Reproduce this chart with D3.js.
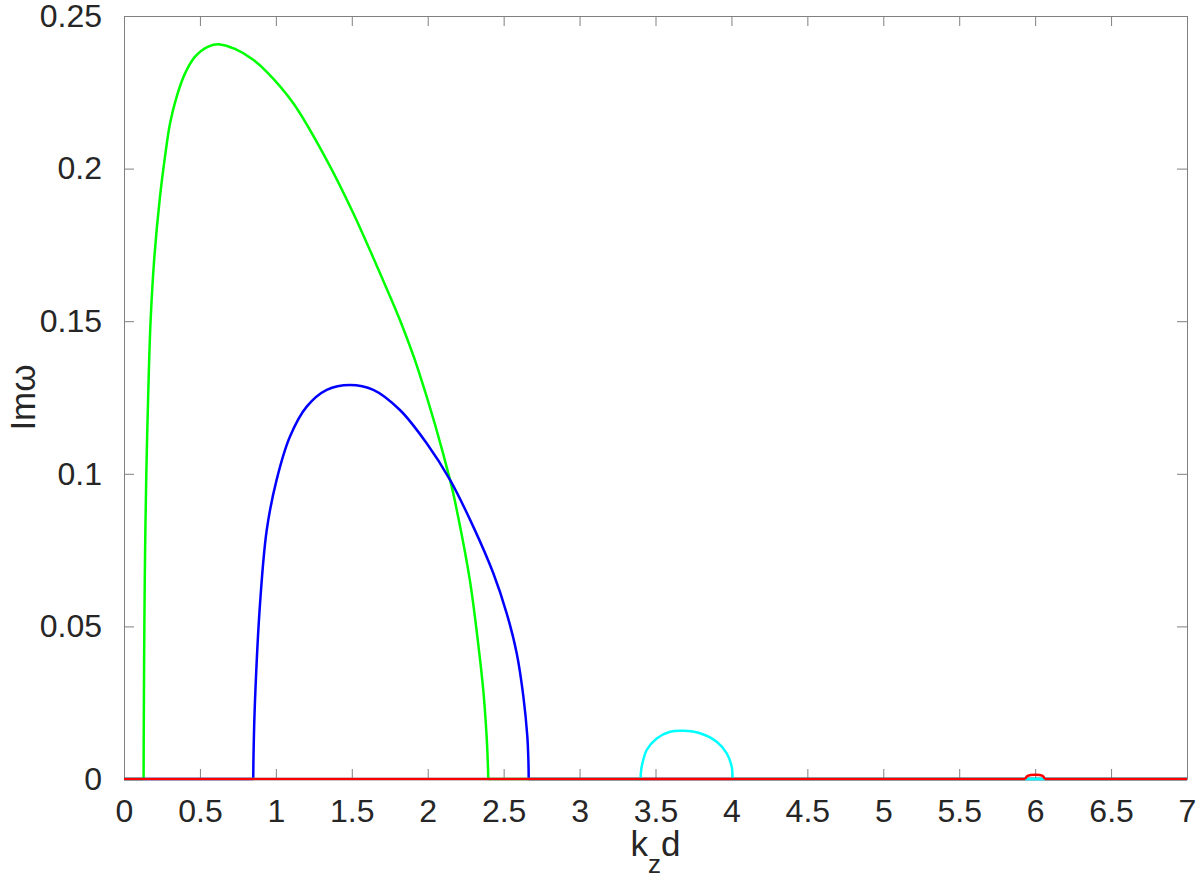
<!DOCTYPE html>
<html>
<head>
<meta charset="utf-8">
<script src="https://cdn.jsdelivr.net/npm/d3@7"></script>
<style>
  body { margin: 0; background: #fff; }
  text { font-family: "Liberation Sans", Arial, sans-serif; fill: #262626; }
</style>
</head>
<body>
<script>
// growth rate curves
var kGreen  = [0, 0.129, 0.1305, 0.134, 0.139, 0.147, 0.16, 0.175, 0.2, 0.237, 0.27, 0.303, 0.347, 0.402, 0.468, 0.555, 0.632, 0.731, 0.841, 0.94, 1.115, 1.335, 1.51, 1.686, 1.817, 1.938, 2.147, 2.202, 2.278, 2.326, 2.366, 2.388, 2.396, 2.399, 7];
var imGreen = [0, 0, 0.02, 0.05, 0.075, 0.1, 0.127, 0.15, 0.171, 0.1908, 0.2039, 0.2148, 0.2236, 0.2312, 0.2367, 0.24, 0.2407, 0.2392, 0.236, 0.2317, 0.2214, 0.2028, 0.1854, 0.1657, 0.1504, 0.134, 0.098, 0.0855, 0.065, 0.047, 0.029, 0.0139, 0.005, 0, 0];

var kBlue  = [0, 0.851, 0.853, 0.862, 0.896, 0.94, 1.005, 1.093, 1.203, 1.335, 1.488, 1.642, 1.817, 1.993, 2.147, 2.3, 2.432, 2.52, 2.586, 2.63, 2.656, 2.663, 2.665, 7];
var imBlue = [0, 0, 0.008, 0.0248, 0.0576, 0.0816, 0.098, 0.1122, 0.122, 0.1275, 0.1291, 0.1275, 0.1209, 0.11, 0.098, 0.0827, 0.0674, 0.0543, 0.0412, 0.027, 0.0139, 0.006, 0, 0];

var kCyan  = [0, 3.402, 3.404, 3.409, 3.442, 3.508, 3.596, 3.683, 3.793, 3.903, 3.969, 4.002, 4.006, 4.008, 7];
var imCyan = [0, 0, 0.002, 0.004, 0.0095, 0.0133, 0.0155, 0.0158, 0.015, 0.0122, 0.0084, 0.004, 0.002, 0, 0];

var kRed  = [0, 5.935, 5.945, 5.97, 6.0, 6.03, 6.055, 6.062, 7];
var imRed = [0, 0, 0.0008, 0.0013, 0.0014, 0.0013, 0.0008, 0, 0];

var xTicks = [0, 0.5, 1, 1.5, 2, 2.5, 3, 3.5, 4, 4.5, 5, 5.5, 6, 6.5, 7];
var yTicks = [0, 0.05, 0.1, 0.15, 0.2, 0.25];

var width = 1200, height = 880,
    margin = {top: 16, right: 13, bottom: 101, left: 124};

var w = width - margin.left - margin.right,
    h = height - margin.top - margin.bottom;

var svg = d3.select("body").append("svg")
    .attr("width", width)
    .attr("height", height)
    .append("g")
    .attr("transform", "translate(" + margin.left + "," + margin.top + ")");

var x = d3.scaleLinear().domain([0, 7]).range([0, w]);
var y = d3.scaleLinear().domain([0, 0.25]).range([h, 0]);

function styleAxis(g) {
    g.select(".domain").attr("stroke", "#808080").attr("stroke-width", 1);
    g.selectAll(".tick line").attr("stroke", "#808080").attr("stroke-width", 1);
    g.selectAll("text").style("font-size", "32px").attr("fill", "#262626")
        .attr("font-family", "Liberation Sans, Arial, sans-serif");
}

// bottom axis with labels
svg.append("g")
    .attr("transform", "translate(0," + h + ")")
    .call(d3.axisBottom(x).tickValues(xTicks).tickFormat(d3.format("")).tickSizeInner(-10).tickSizeOuter(0).tickPadding(20))
    .call(styleAxis);

// top axis, ticks only
svg.append("g")
    .call(d3.axisTop(x).tickValues(xTicks).tickFormat("").tickSizeInner(-10).tickSizeOuter(0))
    .call(styleAxis);

// left axis with labels
svg.append("g")
    .call(d3.axisLeft(y).tickValues(yTicks).tickFormat(d3.format("")).tickSizeInner(-10).tickSizeOuter(0).tickPadding(22))
    .call(styleAxis);

// right axis, ticks only
svg.append("g")
    .attr("transform", "translate(" + w + ",0)")
    .call(d3.axisRight(y).tickValues(yTicks).tickFormat("").tickSizeInner(-10).tickSizeOuter(0))
    .call(styleAxis);

// smooth curve for the unstable band, straight line for the zero parts
var smooth = d3.line()
    .x(function(d) { return x(d[0]); })
    .y(function(d) { return y(d[1]); })
    .curve(d3.curveCatmullRom.alpha(0.5));

var straight = d3.line()
    .x(function(d) { return x(d[0]); })
    .y(function(d) { return y(d[1]); });

var series = [
    {k: kGreen, v: imGreen, color: "#00ff00"},
    {k: kBlue,  v: imBlue,  color: "#0000ff"},
    {k: kCyan,  v: imCyan,  color: "#00ffff"},
    {k: kRed,   v: imRed,   color: "#ff0000"}
];

series.forEach(function(s) {
    var pts = s.k.map(function(k, i) { return [k, s.v[i]]; });
    var i0 = pts.findIndex(function(p) { return p[1] > 0; }) - 1;
    var i1 = pts.length - 1 - pts.slice().reverse().findIndex(function(p) { return p[1] > 0; }) + 1;
    var g = svg.append("g")
        .style("fill", "none")
        .style("stroke", s.color)
        .style("stroke-width", "2.5px")
        .style("stroke-linejoin", "round");
    g.append("path").attr("d", straight(pts.slice(0, i0 + 1)));
    g.append("path").attr("d", smooth(pts.slice(i0, i1 + 1)));
    g.append("path").attr("d", straight(pts.slice(i1)));
});

// x label k_z d
var xl = svg.append("text")
    .attr("x", w / 2)
    .attr("y", h + 77)
    .style("text-anchor", "middle")
    .style("font-size", "35px");
xl.append("tspan").text("k");
xl.append("tspan").attr("dy", 17).style("font-size", "26px").text("z");
xl.append("tspan").attr("dy", -17).text("d");

// y label
svg.append("text")
    .attr("transform", "translate(-89," + (h / 2) + ") rotate(-90)")
    .style("text-anchor", "middle")
    .style("font-size", "35px")
    .text("Imω");
</script>
</body>
</html>
